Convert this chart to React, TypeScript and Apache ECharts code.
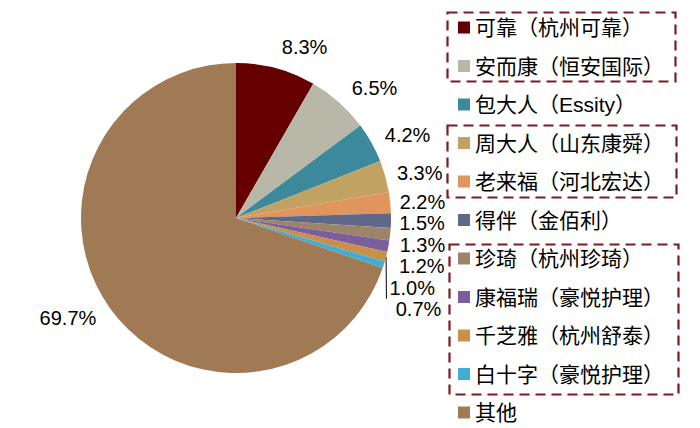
import React, { useEffect, useRef } from 'react';
import * as echarts from 'echarts';

const brands = [
  '可靠（杭州可靠）',
  '安而康（恒安国际）',
  '包大人（Essity）',
  '周大人（山东康舜）',
  '老来福（河北宏达）',
  '得伴（金佰利）',
  '珍琦（杭州珍琦）',
  '康福瑞（豪悦护理）',
  '千芝雅（杭州舒泰）',
  '白十字（豪悦护理）',
  '其他',
];
const shares = [8.3, 6.5, 4.2, 3.3, 2.2, 1.5, 1.3, 1.2, 1.0, 0.7, 69.7];
const colors = [
  '#660000',
  '#B9B8A8',
  '#3C899C',
  '#C2A262',
  '#E0955E',
  '#5E6888',
  '#9C8468',
  '#7B5E9C',
  '#C8904A',
  '#42ADD0',
  '#A07A55',
];

const CX = 236;
const CY = 218;
const R = 155;
const BOX_COLOR = '#7A1C22';

// Excel-ish outside label placement, worked out from the slice angles
const total = shares.reduce((a, b) => a + b, 0);
const labelPos = (() => {
  let acc = 0;
  const out = shares.map((v) => {
    const mid = ((acc + v / 2) / total) * Math.PI * 2;
    acc += v;
    const ux = Math.sin(mid);
    const uy = -Math.cos(mid);
    const rho = R + 8 + 15 * Math.abs(Math.cos(mid));
    return { x: CX + rho * ux, y: CY + rho * uy, ux, uy, right: ux >= 0, mid };
  });
  // push crowded labels on the lower right downwards
  let prevY = -Infinity;
  out.forEach((p) => {
    if (p.right && p.mid > Math.PI * 0.4) {
      if (p.y < prevY + 21.5) p.y = prevY + 21.5;
      prevY = p.y;
    }
  });
  return out;
})();

const App = (): JSX.Element => {
  const divEL = useRef(null);

  useEffect(() => {
    document.body.style.margin = '0';
    const instance = echarts.init(divEL.current as any, null, { renderer: 'svg' });

    const option: any = {
      animation: false,
      backgroundColor: '#ffffff',
      color: colors,
      legend: {
        orient: 'vertical',
        left: 453,
        top: 12,
        height: 420,
        itemWidth: 12,
        itemHeight: 12,
        itemGap: 17.5,
        icon: 'rect',
        selectedMode: false,
        textStyle: {
          color: '#000',
          fontSize: 21,
          lineHeight: 21,
          fontFamily: '"Liberation Sans", Arial, "Noto Sans CJK SC"',
        },
        data: brands,
      },
      graphic: [
        { left: 445, top: 10, shape: { width: 228, height: 69 } },
        { left: 445, top: 123, shape: { width: 229, height: 72 } },
        { left: 447, top: 242, shape: { width: 229, height: 150 } },
      ].map((b) => ({
        type: 'rect',
        left: b.left,
        top: b.top,
        shape: b.shape,
        style: { fill: 'none', stroke: BOX_COLOR, lineWidth: 2.2, lineDash: [10, 6] },
      })),
      series: [
        {
          type: 'pie',
          center: [CX, CY],
          radius: R,
          startAngle: 90,
          clockwise: true,
          avoidLabelOverlap: false,
          label: {
            show: true,
            position: 'outside',
            color: '#000',
            fontSize: 20,
            lineHeight: 20,
            fontFamily: '"Liberation Sans", Arial',
            formatter: (p: any) => p.value.toFixed(1) + '%',
          },
          labelLine: { show: false },
          emphasis: { disabled: true },
          labelLayout: (params: any) => {
            const p = labelPos[params.dataIndex];
            const res: any = {
              x: p.x,
              y: p.y,
              align: p.right ? 'left' : 'right',
              verticalAlign: 'middle',
            };
            if (params.dataIndex === 8) {
              res.x = p.x - 8;
              res.labelLinePoints = [
                [CX + R * p.ux, CY + R * p.uy],
                [p.x - 11, p.y + 11],
              ];
            }
            return res;
          },
          data: shares.map((v, i) => ({
            value: v,
            name: brands[i],
            labelLine: i === 8 ? { show: true, length: 5, length2: 0, lineStyle: { color: '#000', width: 1 } } : undefined,
          })),
        },
      ],
    };

    instance.setOption(option);

    return () => {
      instance.dispose();
    };
  }, []);

  return <div ref={divEL} style={{ width: 700, height: 428 }}></div>;
};

export default App;
